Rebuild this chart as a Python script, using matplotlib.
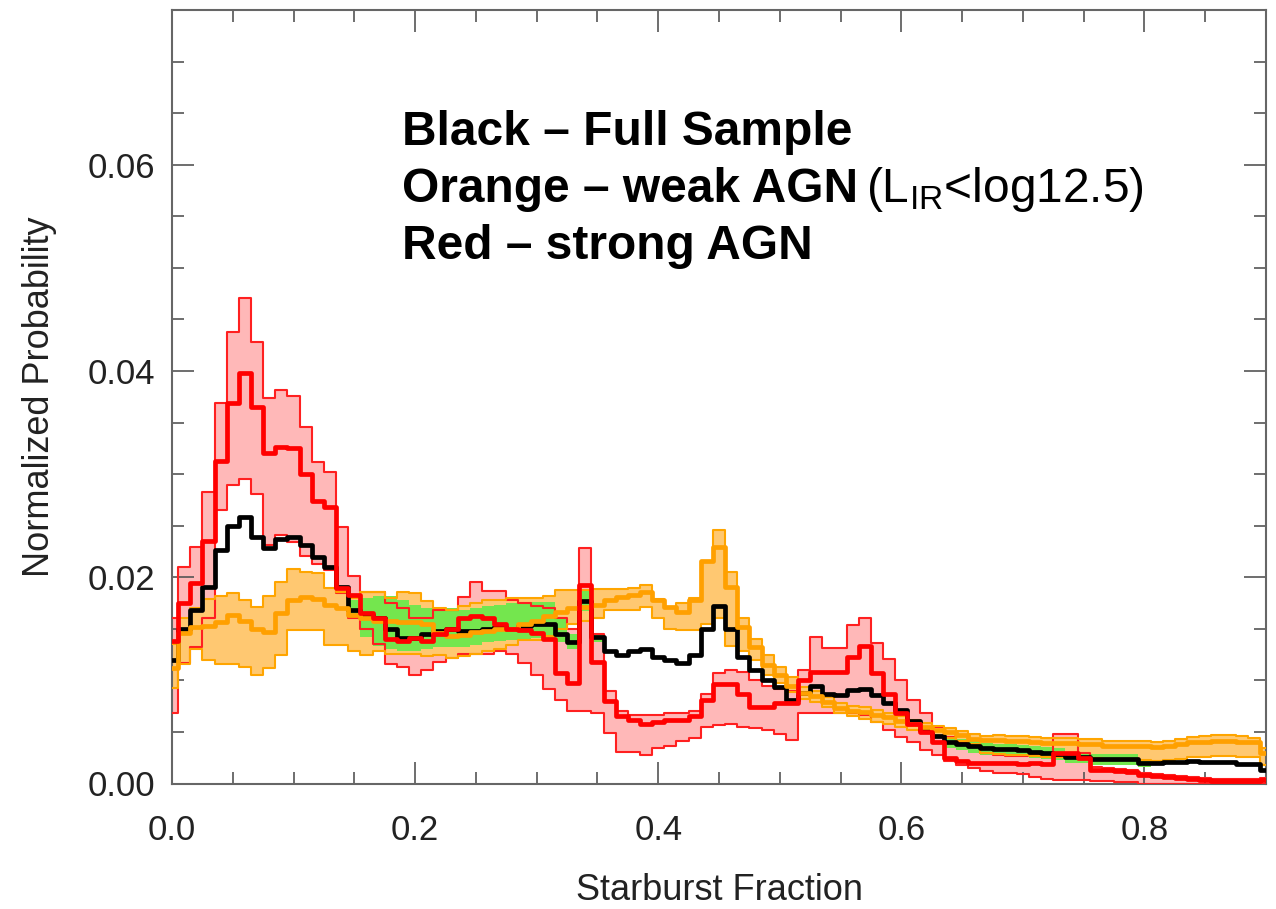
import numpy as np
import matplotlib.pyplot as plt
from matplotlib.ticker import MultipleLocator, FormatStrFormatter

plt.rcParams['font.family'] = ['Liberation Sans', 'DejaVu Sans']
plt.rcParams['mathtext.fontset'] = 'custom'
plt.rcParams['mathtext.rm'] = 'Liberation Sans'

# bin centres, 0.00 ... 0.90 in steps of 0.01
frac = np.round(np.arange(91) * 0.01, 2)

# strong AGN (red): median, upper and lower bound
red_mid = [0.0138, 0.0175, 0.0194, 0.0235, 0.0313, 0.0369, 0.0398, 0.0365, 0.0320, 0.0326,
           0.0325, 0.0300, 0.0274, 0.0268, 0.0190, 0.0183, 0.0165, 0.0160, 0.0140, 0.0138,
           0.0141, 0.0138, 0.0145, 0.0150, 0.0160, 0.0162, 0.0160, 0.0155, 0.0150, 0.0149,
           0.0146, 0.0140, 0.0107, 0.0097, 0.0192, 0.0118, 0.0080, 0.0065, 0.0062, 0.0058,
           0.0060, 0.0062, 0.0062, 0.0065, 0.0081, 0.0096, 0.0096, 0.0087, 0.0074, 0.0074,
           0.0078, 0.0078, 0.0100, 0.0108, 0.0108, 0.0108, 0.0123, 0.0133, 0.0107, 0.0087,
           0.0068, 0.0058, 0.0050, 0.0040, 0.0025, 0.0022, 0.0020, 0.0020, 0.0020, 0.0020,
           0.0019, 0.0020, 0.0019, 0.0030, 0.0030, 0.0025, 0.0013, 0.0013, 0.0012, 0.0011,
           0.0008, 0.0007, 0.0006, 0.0005, 0.0004, 0.0003, 0.0002, 0.0002, 0.0002, 0.0002,
           0.0003]
red_hi = [0.0160, 0.0210, 0.0229, 0.0283, 0.0369, 0.0438, 0.0471, 0.0428, 0.0374, 0.0382,
          0.0376, 0.0346, 0.0312, 0.0302, 0.0249, 0.0201, 0.0186, 0.0186, 0.0175, 0.0170,
          0.0160, 0.0160, 0.0168, 0.0168, 0.0181, 0.0195, 0.0187, 0.0187, 0.0178, 0.0175,
          0.0172, 0.0170, 0.0160, 0.0150, 0.0228, 0.0145, 0.0090, 0.0070, 0.0066, 0.0066,
          0.0066, 0.0068, 0.0068, 0.0070, 0.0087, 0.0107, 0.0110, 0.0108, 0.0100, 0.0095,
          0.0092, 0.0090, 0.0110, 0.0142, 0.0131, 0.0131, 0.0154, 0.0160, 0.0136, 0.0121,
          0.0100, 0.0081, 0.0068, 0.0055, 0.0045, 0.0040, 0.0035, 0.0030, 0.0028, 0.0027,
          0.0027, 0.0028, 0.0030, 0.0048, 0.0048, 0.0030, 0.0016, 0.0015, 0.0014, 0.0013,
          0.0010, 0.0009, 0.0008, 0.0007, 0.0006, 0.0005, 0.0004, 0.0004, 0.0004, 0.0004,
          0.0005]
red_lo = [0.0068, 0.0117, 0.0132, 0.0160, 0.0265, 0.0289, 0.0295, 0.0281, 0.0231, 0.0241,
          0.0234, 0.0221, 0.0213, 0.0207, 0.0185, 0.0160, 0.0150, 0.0135, 0.0116, 0.0113,
          0.0105, 0.0110, 0.0118, 0.0122, 0.0126, 0.0126, 0.0126, 0.0128, 0.0126, 0.0117,
          0.0105, 0.0092, 0.0081, 0.0070, 0.0070, 0.0068, 0.0049, 0.0031, 0.0031, 0.0028,
          0.0034, 0.0036, 0.0041, 0.0044, 0.0055, 0.0057, 0.0058, 0.0055, 0.0054, 0.0052,
          0.0048, 0.0042, 0.0068, 0.0068, 0.0068, 0.0068, 0.0068, 0.0066, 0.0060, 0.0052,
          0.0045, 0.0040, 0.0032, 0.0028, 0.0022, 0.0018, 0.0015, 0.0012, 0.0010, 0.0010,
          0.0009, 0.0006, 0.0004, 0.0003, 0.0003, 0.0003, 0.0002, 0.0002, 0.0001, 0.0001,
          0.0000, 0.0000, 0.0000, 0.0000, 0.0000, 0.0000, 0.0000, 0.0000, 0.0000, 0.0000,
          0.0000]

# full sample (black line, green band)
black_mid = [0.0120, 0.0150, 0.0168, 0.0191, 0.0226, 0.0250, 0.0258, 0.0239, 0.0228, 0.0237,
             0.0239, 0.0231, 0.0220, 0.0210, 0.0191, 0.0168, 0.0163, 0.0160, 0.0150, 0.0141,
             0.0141, 0.0145, 0.0148, 0.0150, 0.0148, 0.0148, 0.0150, 0.0152, 0.0150, 0.0153,
             0.0155, 0.0155, 0.0145, 0.0137, 0.0177, 0.0142, 0.0128, 0.0125, 0.0128, 0.0130,
             0.0123, 0.0120, 0.0117, 0.0125, 0.0150, 0.0172, 0.0150, 0.0123, 0.0110, 0.0100,
             0.0094, 0.0081, 0.0088, 0.0095, 0.0087, 0.0086, 0.0091, 0.0092, 0.0086, 0.0078,
             0.0071, 0.0061, 0.0052, 0.0046, 0.0040, 0.0038, 0.0036, 0.0034, 0.0033, 0.0033,
             0.0032, 0.0031, 0.0030, 0.0029, 0.0026, 0.0026, 0.0024, 0.0024, 0.0024, 0.0024,
             0.0020, 0.0020, 0.0021, 0.0021, 0.0022, 0.0021, 0.0021, 0.0021, 0.0019, 0.0019,
             0.0013]
green_hi = [0.0120, 0.0150, 0.0168, 0.0191, 0.0226, 0.0250, 0.0258, 0.0239, 0.0228, 0.0237,
            0.0239, 0.0231, 0.0220, 0.0210, 0.0191, 0.0178, 0.0180, 0.0182, 0.0182, 0.0178,
            0.0173, 0.0170, 0.0170, 0.0170, 0.0168, 0.0170, 0.0172, 0.0173, 0.0175, 0.0175,
            0.0176, 0.0176, 0.0160, 0.0145, 0.0188, 0.0145, 0.0128, 0.0125, 0.0128, 0.0130,
            0.0123, 0.0120, 0.0117, 0.0125, 0.0150, 0.0172, 0.0150, 0.0123, 0.0110, 0.0100,
            0.0094, 0.0081, 0.0088, 0.0095, 0.0087, 0.0086, 0.0091, 0.0092, 0.0086, 0.0078,
            0.0071, 0.0061, 0.0052, 0.0046, 0.0045, 0.0043, 0.0041, 0.0039, 0.0038, 0.0038,
            0.0037, 0.0036, 0.0035, 0.0034, 0.0031, 0.0031, 0.0029, 0.0029, 0.0029, 0.0029,
            0.0024, 0.0020, 0.0021, 0.0021, 0.0022, 0.0021, 0.0021, 0.0021, 0.0019, 0.0019,
            0.0013]
green_lo = [0.0120, 0.0150, 0.0168, 0.0191, 0.0226, 0.0250, 0.0258, 0.0239, 0.0228, 0.0237,
            0.0239, 0.0231, 0.0220, 0.0210, 0.0191, 0.0160, 0.0142, 0.0133, 0.0130, 0.0128,
            0.0128, 0.0130, 0.0132, 0.0132, 0.0132, 0.0134, 0.0137, 0.0138, 0.0139, 0.0140,
            0.0141, 0.0141, 0.0137, 0.0130, 0.0167, 0.0137, 0.0128, 0.0125, 0.0128, 0.0130,
            0.0123, 0.0120, 0.0117, 0.0125, 0.0150, 0.0172, 0.0150, 0.0123, 0.0110, 0.0100,
            0.0094, 0.0081, 0.0088, 0.0095, 0.0087, 0.0086, 0.0091, 0.0092, 0.0086, 0.0078,
            0.0071, 0.0061, 0.0052, 0.0046, 0.0034, 0.0032, 0.0030, 0.0028, 0.0027, 0.0027,
            0.0026, 0.0025, 0.0024, 0.0023, 0.0020, 0.0020, 0.0018, 0.0018, 0.0018, 0.0018,
            0.0016, 0.0020, 0.0021, 0.0021, 0.0022, 0.0021, 0.0021, 0.0021, 0.0019, 0.0019,
            0.0013]

# weak AGN (orange)
orange_mid = [0.0112, 0.0146, 0.0152, 0.0153, 0.0157, 0.0163, 0.0158, 0.0150, 0.0147, 0.0165,
              0.0178, 0.0181, 0.0179, 0.0173, 0.0170, 0.0163, 0.0160, 0.0158, 0.0158, 0.0157,
              0.0157, 0.0155, 0.0146, 0.0143, 0.0144, 0.0147, 0.0148, 0.0150, 0.0150, 0.0155,
              0.0158, 0.0162, 0.0166, 0.0170, 0.0171, 0.0173, 0.0178, 0.0181, 0.0183, 0.0186,
              0.0178, 0.0171, 0.0166, 0.0178, 0.0216, 0.0229, 0.0191, 0.0152, 0.0132, 0.0115,
              0.0105, 0.0095, 0.0088, 0.0085, 0.0079, 0.0073, 0.0070, 0.0069, 0.0066, 0.0064,
              0.0061, 0.0058, 0.0055, 0.0052, 0.0050, 0.0047, 0.0043, 0.0042, 0.0042, 0.0041,
              0.0041, 0.0040, 0.0039, 0.0039, 0.0039, 0.0038, 0.0038, 0.0036, 0.0036, 0.0036,
              0.0036, 0.0035, 0.0036, 0.0038, 0.0040, 0.0040, 0.0041, 0.0041, 0.0040, 0.0040,
              0.0030]
orange_hi = [0.0135, 0.0160, 0.0170, 0.0179, 0.0182, 0.0185, 0.0178, 0.0171, 0.0182, 0.0195,
             0.0208, 0.0205, 0.0204, 0.0190, 0.0186, 0.0180, 0.0186, 0.0186, 0.0180, 0.0186,
             0.0185, 0.0177, 0.0170, 0.0168, 0.0172, 0.0175, 0.0178, 0.0178, 0.0180, 0.0180,
             0.0180, 0.0182, 0.0188, 0.0188, 0.0188, 0.0189, 0.0189, 0.0189, 0.0190, 0.0192,
             0.0179, 0.0171, 0.0175, 0.0180, 0.0216, 0.0246, 0.0205, 0.0160, 0.0140, 0.0125,
             0.0113, 0.0103, 0.0094, 0.0090, 0.0084, 0.0078, 0.0075, 0.0074, 0.0071, 0.0068,
             0.0065, 0.0062, 0.0059, 0.0056, 0.0054, 0.0051, 0.0048, 0.0046, 0.0047, 0.0046,
             0.0046, 0.0045, 0.0044, 0.0044, 0.0044, 0.0043, 0.0043, 0.0041, 0.0041, 0.0041,
             0.0041, 0.0040, 0.0041, 0.0043, 0.0045, 0.0046, 0.0047, 0.0047, 0.0046, 0.0044,
             0.0034]
orange_lo = [0.0093, 0.0116, 0.0130, 0.0120, 0.0116, 0.0116, 0.0113, 0.0105, 0.0112, 0.0125,
             0.0149, 0.0149, 0.0149, 0.0134, 0.0134, 0.0128, 0.0125, 0.0128, 0.0126, 0.0126,
             0.0126, 0.0124, 0.0125, 0.0122, 0.0124, 0.0126, 0.0128, 0.0130, 0.0134, 0.0139,
             0.0139, 0.0143, 0.0150, 0.0155, 0.0158, 0.0160, 0.0168, 0.0168, 0.0168, 0.0171,
             0.0160, 0.0150, 0.0149, 0.0149, 0.0155, 0.0160, 0.0133, 0.0128, 0.0120, 0.0105,
             0.0097, 0.0089, 0.0082, 0.0079, 0.0074, 0.0068, 0.0065, 0.0063, 0.0060, 0.0058,
             0.0055, 0.0052, 0.0049, 0.0046, 0.0044, 0.0041, 0.0038, 0.0030, 0.0029, 0.0028,
             0.0028, 0.0027, 0.0026, 0.0026, 0.0026, 0.0025, 0.0025, 0.0023, 0.0023, 0.0023,
             0.0023, 0.0022, 0.0023, 0.0024, 0.0026, 0.0026, 0.0027, 0.0027, 0.0026, 0.0026,
             0.0018]

x_ticks = [0.0, 0.2, 0.4, 0.6, 0.8]
y_ticks = [0.00, 0.02, 0.04, 0.06]

fig = plt.figure(figsize=(12.76, 9.09), dpi=100)
ax = fig.add_axes([172 / 1276, 1 - 783.5 / 909, 1094 / 1276, 773.5 / 909])

# bands
ax.fill_between(frac, red_lo, red_hi, step='mid', color='#ffb8b8', lw=0, zorder=1)
ax.fill_between(frac, orange_lo, orange_hi, step='mid', color='#ffc871', lw=0, zorder=2)
ax.fill_between(frac, green_lo, green_hi, step='mid', color='#74e64e', lw=0, zorder=3)

# thin outlines
for arr in (red_hi, red_lo):
    ax.step(frac, arr, where='mid', color='#ff2020', lw=1.5, zorder=4)
for arr in (orange_hi, orange_lo):
    ax.step(frac, arr, where='mid', color='#ffa500', lw=1.5, zorder=4)

# thick median lines
ax.step(frac, black_mid, where='mid', color='black', lw=3.4, zorder=5)
ax.step(frac, orange_mid, where='mid', color='#ffa000', lw=3.4, zorder=6)
ax.step(frac, red_mid, where='mid', color='#ff0000', lw=3.4, zorder=7)

ax.set_xlim(0, 0.9)
ax.set_ylim(0, 0.075)
ax.set_xticks(x_ticks)
ax.set_yticks(y_ticks)
ax.xaxis.set_major_formatter(FormatStrFormatter('%.1f'))
ax.yaxis.set_major_formatter(FormatStrFormatter('%.2f'))
ax.xaxis.set_minor_locator(MultipleLocator(0.05))
ax.yaxis.set_minor_locator(MultipleLocator(0.005))
ax.tick_params(which='both', direction='in', top=True, right=True,
               color='#555555', width=1.2, labelsize=25, labelcolor='#222222')
ax.tick_params(which='major', length=16)
ax.tick_params(which='minor', length=8.5)
ax.tick_params(axis='x', pad=22)
ax.tick_params(axis='y', pad=12)
for sp in ax.spines.values():
    sp.set_color('#666666')
    sp.set_linewidth(1.5)

ax.set_xlabel('Starburst Fraction', fontsize=26, color='#222222', labelpad=19)
ax.set_ylabel('Normalized Probability', fontsize=26, color='#222222', labelpad=22)

# annotation
fig.text(402 / 1276, 1 - 145 / 909, 'Black \u2013 Full Sample', fontsize=34.5,
         fontweight='bold', ha='left', va='baseline')
t2 = fig.text(402 / 1276, 1 - 202 / 909, 'Orange \u2013 weak AGN', fontsize=34.5,
              fontweight='bold', ha='left', va='baseline')
fig.text(402 / 1276, 1 - 259 / 909, 'Red \u2013 strong AGN', fontsize=34.5,
         fontweight='bold', ha='left', va='baseline')

fig.canvas.draw()
bb = t2.get_window_extent()
fig.text((bb.x1 + 8) / 1276, 1 - 202 / 909, r'(L$_{\mathrm{IR}}$<log12.5)',
         fontsize=34.5, ha='left', va='baseline')

fig.savefig('out.png', dpi=100)
